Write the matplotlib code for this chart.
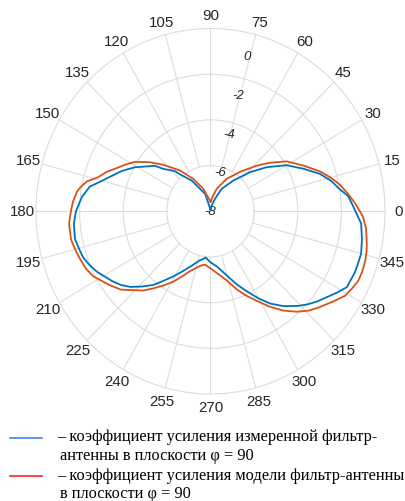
import numpy as np
import matplotlib
matplotlib.use('Agg')
import matplotlib.pyplot as plt
from matplotlib.lines import Line2D

# Gain pattern in the phi = 90 plane: angle (deg) and gain (dB)
meas_ang = [90, 76, 69.3, 62.4, 52.1, 43.4, 36.8, 30, 23.4, 18, 13.5, 9, 6.1, 2, 355.5,
            350, 345, 341.3, 338, 332, 328.5, 325.3, 321, 317.3, 314, 308.7, 304, 299.8,
            295.5, 290.7, 285, 277, 269.4, 264, 257, 249, 243.7, 239, 234.5, 231, 226.4,
            222, 218.2, 214.5, 207, 202.7, 199, 195.2, 191, 185, 180, 174, 169, 165,
            161.1, 156.5, 151, 142, 139.4, 133, 130.9, 122.5, 108, 90]
meas_db = [-7.93, -7.71, -7.42, -6.89, -6.30, -5.51, -4.78, -3.97, -3.33, -2.72, -2.31,
           -1.98, -1.66, -1.46, -1.07, -0.95, -0.85, -0.86, -0.86, -0.92, -1.19, -1.44,
           -1.72, -1.98, -2.24, -2.68, -3.13, -3.62, -4.11, -4.57, -5.08, -5.56, -5.78,
           -5.96, -5.79, -5.40, -5.05, -4.66, -4.25, -3.85, -3.45, -3.05, -2.78, -2.57,
           -2.16, -1.96, -1.82, -1.75, -1.67, -1.71, -1.83, -2.07, -2.36, -2.85, -3.22,
           -3.57, -4.03, -4.77, -5.15, -5.60, -5.86, -6.42, -7.20, -7.93]

model_ang = [90, 80, 73.9, 62.4, 51.9, 43.3, 38, 32, 24.9, 19, 14.8, 11, 6.9, 3, 358, 354,
             349, 346.1, 343, 339.2, 336, 332.5, 329, 324.9, 320, 316.1, 312, 307.4, 303,
             298.9, 294, 289.5, 284, 272, 264, 259, 250, 245.4, 241, 236.2, 232, 228.3,
             224, 219.9, 215, 208, 203.7, 199, 194.8, 191, 185, 180, 176.2, 172, 169.8,
             167, 164, 160, 157, 152.6, 148, 142.3, 136.8, 128.1, 119.1, 108.6, 90]
model_db = [-7.58, -7.31, -6.98, -6.40, -5.81, -5.09, -4.55, -3.88, -3.27, -2.67, -2.28,
            -1.95, -1.65, -1.36, -1.00, -0.83, -0.70, -0.63, -0.58, -0.56, -0.57, -0.68,
            -0.81, -1.13, -1.47, -1.73, -2.08, -2.53, -3.02, -3.49, -3.95, -4.36, -4.87,
            -5.44, -5.65, -5.57, -5.20, -4.86, -4.47, -4.08, -3.71, -3.35, -3.03, -2.65,
            -2.36, -1.92, -1.76, -1.66, -1.57, -1.49, -1.49, -1.60, -1.68, -1.82, -1.96,
            -2.19, -2.62, -2.95, -3.24, -3.58, -3.92, -4.49, -5.03, -5.73, -6.38, -6.96,
            -7.58]

r_ticks = [-8, -6, -4, -2, 0]
theta_ticks = list(range(0, 360, 15))

legend_text = [
    ("– коэффициент усиления измеренной фильтр-", "антенны в плоскости φ = 90"),
    ("– коэффициент усиления модели фильтр-антенны", "в плоскости φ = 90"),
]

grid_c = '#dcdcdc'
label_c = '#262626'

fig = plt.figure(figsize=(4.06, 5.02), dpi=100)
ax = fig.add_axes([36 / 406, 1 - 395 / 502, 349 / 406, 365.5 / 502], projection='polar')
ax.set_aspect('auto')
ax.set_rlim(-8, 0)

# rings at the inner r ticks, outer ring is the spine
ax.set_yticks(r_ticks[1:-1])
ax.set_yticklabels([])
ax.yaxis.grid(True, color=grid_c, lw=0.8)
ax.set_xticks(np.radians(theta_ticks))
ax.set_xticklabels([])
ax.xaxis.grid(False)
ax.tick_params(length=0)
ax.spines['polar'].set_color(grid_c)
ax.spines['polar'].set_linewidth(0.8)

# spokes start at the first ring, centre is left empty
for t in theta_ticks:
    a = np.radians(t)
    ax.plot([a, a], [r_ticks[1], r_ticks[-1]], color=grid_c, lw=0.8, zorder=0.5)

# angle labels outside the outer ring
for t in theta_ticks:
    a = np.radians(t)
    off = 13.5
    ax.annotate(str(t), xy=(a, 0), xytext=(off * np.cos(a) * 0.72, off * np.sin(a) * 0.72),
                textcoords='offset points', ha='center', va='center', fontsize=10.8,
                color=label_c, family='Liberation Sans', annotation_clip=False)

# radial labels along 76 deg
for v in r_ticks:
    ax.text(np.radians(76), -8 + 0.875 * (v + 8), str(v), ha='center', va='center',
            fontsize=9.5, style='italic', color=label_c, family='Liberation Sans')

ax.plot(np.radians(meas_ang), meas_db, color='#0072BD', lw=1.3, zorder=3)
ax.plot(np.radians(model_ang), model_db, color='#D95319', lw=1.3, zorder=3)

# legend drawn below the chart
line_cols = ['#3d85e6', '#ff2020']
line_y = [439, 476.5]
text_y = [(437, 456.5), (476.5, 494)]
for col, ly, (ty1, ty2), (t1, t2) in zip(line_cols, line_y, text_y, legend_text):
    fig.add_artist(Line2D([10 / 406, 42 / 406], [1 - ly / 502] * 2, color=col, lw=1.2))
    fig.text(57 / 406, 1 - ty1 / 502, t1, ha='left', va='center', fontsize=11.8,
             family='Liberation Serif', color='black')
    fig.text(60 / 406, 1 - ty2 / 502, t2, ha='left', va='center', fontsize=11.8,
             family='Liberation Serif', color='black')

fig.savefig('out.png', dpi=100, facecolor='white')
